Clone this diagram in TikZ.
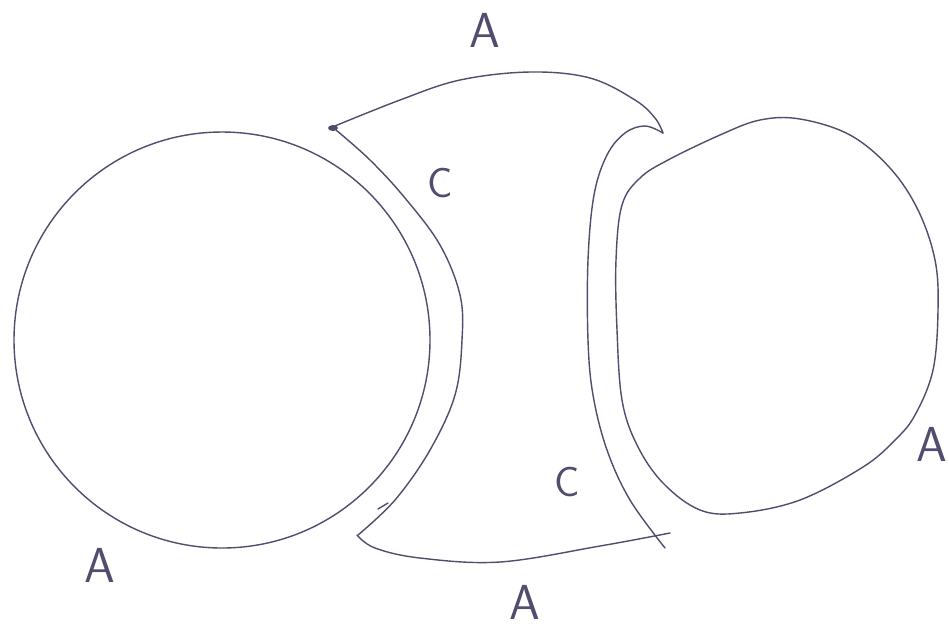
\documentclass[tikz,border=0pt]{standalone}
\usepackage{xcolor}
\definecolor{ink}{RGB}{84,76,110}
\usepackage{tikz}
\usetikzlibrary{positioning}

\begin{document}
\begin{tikzpicture}[x=0.02cm,y=-0.02cm,
  pen/.style={draw=ink,line width=0.8pt,line cap=round,line join=round},
  lblA/.style={text=ink,font=\sffamily\fontsize{28}{28}\selectfont,inner sep=0pt},
  lblC/.style={text=ink,font=\sffamily\fontsize{24}{24}\selectfont,inner sep=0pt}]
\useasboundingbox[fill=white] (0,0) rectangle (949,627);
% left disc
\draw[pen] (222,340) circle[radius=208];
% right disc
\draw[pen] plot[smooth cycle,tension=0.6] coordinates {(668,160) (720,135) (760,120)
  (800,119) (850,135) (890,168) (918,210) (935,260) (938,310) (933,370) (915,415)
  (895,440) (863,467) (800,500) (740,513) (700,510) (663,483) (637,445) (622,400)
  (617,330) (616,260) (622,205) (640,178)};
% middle piece
\draw[pen] plot[smooth,tension=0.6] coordinates {(330,128) (400,100) (460,80)
  (530,72) (590,78) (635,100) (655,118) (663,133)};
\draw[pen] plot[smooth,tension=0.6] coordinates {(663,133) (645,126) (625,133)
  (607,155) (594,195) (588,260) (588,340) (593,395) (607,450) (630,500) (665,548)};
\draw[pen] plot[smooth,tension=0.6] coordinates {(336,130) (370,160) (405,198)
  (440,245) (460,295) (462,340) (455,395) (430,450) (395,500) (358,535)};
\draw[pen] plot[smooth,tension=0.6] coordinates {(670,533) (600,546) (500,562)
  (420,558) (375,548) (357,535)};
\draw[pen] (378,509) -- (388,503);
\fill[ink] (333,128) ellipse[x radius=5,y radius=3];
% labels
\node[lblA] (aTop)   at (485,30)  {A};
\node[lblA] (aLeft)  at (100,565) {A};
\node[lblA] (aRight) at (932,444) {A};
\node[lblA] (aBot)   at (525,602) {A};
\node[lblC] (cTop)   at (440,183) {C};
\node[lblC] (cBot)   at (567,482) {C};
\end{tikzpicture}
\end{document}
